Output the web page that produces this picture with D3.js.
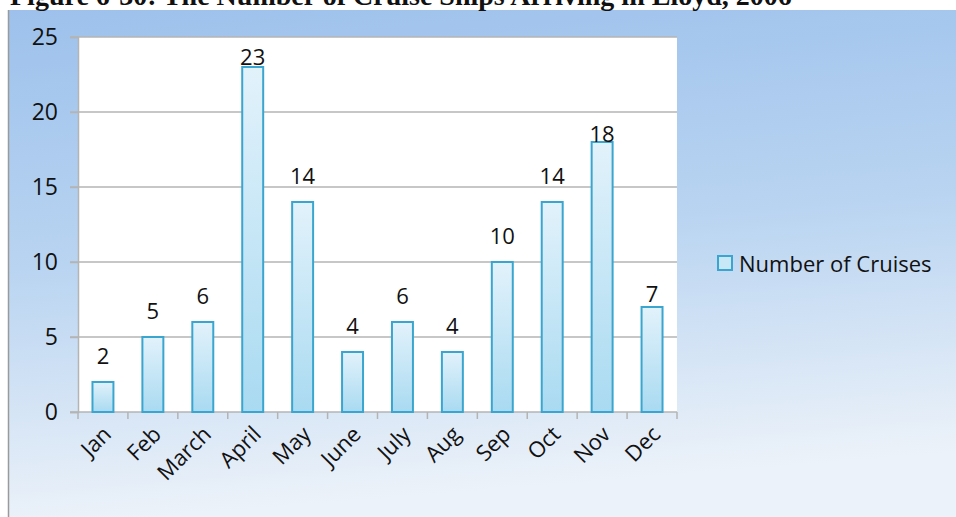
<!DOCTYPE html>
<html>
<head>
<meta charset="utf-8">
<script src="https://cdn.jsdelivr.net/npm/d3@7"></script>
<style>
  html, body { margin: 0; padding: 0; background: #ffffff; }
  svg { display: block; }
</style>
</head>
<body>
<svg id="chart" width="956" height="517"></svg>
<script>
// ---- data ----
const months = ["Jan", "Feb", "March", "April", "May", "June", "July", "Aug", "Sep", "Oct", "Nov", "Dec"];
const cruises = [2, 5, 6, 23, 14, 4, 6, 4, 10, 14, 18, 7];
const yTicks = [0, 5, 10, 15, 20, 25];
const seriesName = "Number of Cruises";
const titleText = "Figure 6-30: The Number of Cruise Ships Arriving in Lloyd, 2006";

// ---- layout ----
const W = 956, H = 517;
const plot = { left: 78, right: 677, top: 37, bottom: 412 };
const font = "'Open Sans', 'DejaVu Sans', sans-serif";

const svg = d3.select("#chart");
const defs = svg.append("defs");

const bg = defs.append("linearGradient").attr("id", "bg")
  .attr("x1", "0").attr("y1", "0").attr("x2", "0.15").attr("y2", "1");
bg.append("stop").attr("offset", "0").attr("stop-color", "#9dc1ec");
bg.append("stop").attr("offset", "0.5").attr("stop-color", "#b9d4f1");
bg.append("stop").attr("offset", "1").attr("stop-color", "#ecf2f9");

const barGrad = defs.append("linearGradient").attr("id", "barGrad")
  .attr("x1", "0").attr("y1", "0").attr("x2", "0").attr("y2", "1");
barGrad.append("stop").attr("offset", "0").attr("stop-color", "#e2f2fb");
barGrad.append("stop").attr("offset", "1").attr("stop-color", "#a9daf1");

// background
svg.append("rect").attr("x", 9).attr("y", 10).attr("width", W - 9).attr("height", H - 10)
  .attr("fill", "url(#bg)");
svg.append("line").attr("x1", 8.5).attr("x2", 8.5).attr("y1", 10).attr("y2", H)
  .attr("stroke", "#9a9a9a").attr("stroke-width", 1.5);

// title (cut off at top like the reference)
svg.append("text").attr("x", 10).attr("y", 5)
  .attr("font-family", "'Liberation Serif', 'DejaVu Serif', serif")
  .attr("font-weight", "bold").attr("font-size", 28).attr("fill", "#111")
  .text(titleText);

// plot area
svg.append("rect").attr("x", plot.left).attr("y", plot.top)
  .attr("width", plot.right - plot.left).attr("height", plot.bottom - plot.top)
  .attr("fill", "#ffffff");

const x = d3.scaleBand().domain(months).range([plot.left, plot.right]).padding(0);
const y = d3.scaleLinear().domain([0, 25]).range([plot.bottom, plot.top]);

// gridlines
svg.append("g").selectAll("line").data(yTicks).join("line")
  .attr("x1", plot.left - 8).attr("x2", plot.right)
  .attr("y1", d => y(d)).attr("y2", d => y(d))
  .attr("stroke", "#b4b4b4").attr("stroke-width", 1.5);

// y axis
const yAxis = svg.append("g").attr("transform", `translate(${plot.left},0)`)
  .call(d3.axisLeft(y).tickValues(yTicks).tickSize(8).tickPadding(12));
yAxis.select(".domain").attr("stroke", "#b4b4b4").attr("stroke-width", 1.5);
yAxis.selectAll(".tick line").attr("stroke", "#b4b4b4").attr("stroke-width", 1.5);
yAxis.selectAll(".tick text").attr("font-family", font).attr("font-size", 23).attr("fill", "#111");

// x axis ticks at band boundaries
const boundaries = months.map(m => x(m)).concat([x(months[months.length - 1]) + x.bandwidth()]);
svg.append("g").selectAll("line").data(boundaries).join("line")
  .attr("x1", d => d).attr("x2", d => d)
  .attr("y1", plot.bottom).attr("y2", plot.bottom + 7)
  .attr("stroke", "#b4b4b4").attr("stroke-width", 1.5);

// bars
const barW = x.bandwidth() * 0.42;
svg.append("g").selectAll("rect").data(cruises).join("rect")
  .attr("x", (d, i) => x(months[i]) + (x.bandwidth() - barW) / 2)
  .attr("y", d => y(d))
  .attr("width", barW)
  .attr("height", d => y(0) - y(d))
  .attr("fill", "url(#barGrad)")
  .attr("stroke", "#3aa6cf").attr("stroke-width", 2);

// value labels (offsets as placed in the original)
const labelGap = { 3: 2, 10: 0, 11: 5 };
svg.append("g").selectAll("text").data(cruises).join("text")
  .attr("x", (d, i) => x(months[i]) + x.bandwidth() / 2)
  .attr("y", (d, i) => y(d) - (labelGap[i] !== undefined ? labelGap[i] : 18))
  .attr("text-anchor", "middle")
  .attr("font-family", font).attr("font-size", 22).attr("fill", "#111")
  .text(d => d);

// x labels, rotated
svg.append("g").selectAll("text").data(months).join("text")
  .attr("transform", d => `translate(${x(d) + x.bandwidth() / 2 - 2},${plot.bottom + 12}) rotate(-45)`)
  .attr("text-anchor", "end")
  .attr("dy", "0.75em")
  .attr("font-family", font).attr("font-size", 22).attr("fill", "#111")
  .text(d => d);

// legend
const lg = svg.append("g").attr("transform", "translate(718,256)");
lg.append("rect").attr("x", 0).attr("y", 0).attr("width", 14).attr("height", 14)
  .attr("fill", "#c9e8f7").attr("stroke", "#3aa6cf").attr("stroke-width", 2);
lg.append("text").attr("x", 21).attr("y", 16)
  .attr("font-family", font).attr("font-size", 22).attr("fill", "#111")
  .text(seriesName);
</script>
</body>
</html>
